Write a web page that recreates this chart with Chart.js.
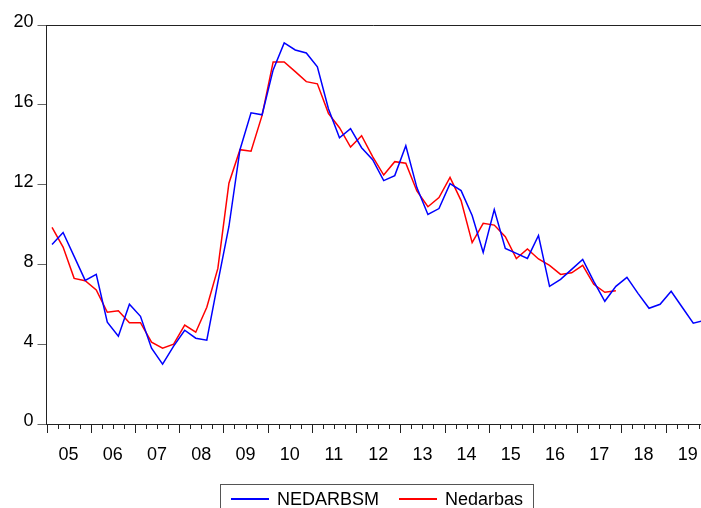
<!DOCTYPE html>
<html>
<head>
<meta charset="utf-8">
<script src="https://cdn.jsdelivr.net/npm/chart.js@4"></script>
<style>
  html, body { margin: 0; padding: 0; background: #fff; overflow: hidden; }
  #wrap { position: relative; width: 701px; height: 508px; }
  #chart { display: block; }
  #legend {
    position: absolute; left: 220px; top: 484px; width: 314px; height: 40px;
    border: 1px solid #555; box-sizing: border-box;
    font: 18px "Liberation Sans", Arial, sans-serif; color: #000;
  }
  #legend .item { position: absolute; top: 4px; white-space: nowrap; }
  #legend .swatch { display: inline-block; width: 38px; height: 2px; vertical-align: middle; margin-right: 8px; position: relative; top: -1px; }
</style>
</head>
<body>
<div id="wrap">
  <canvas id="chart" width="701" height="508"></canvas>
  <div id="legend"></div>
</div>
<script>
// quarterly, 2005Q1 onward
const years = ['05', '06', '07', '08', '09', '10', '11', '12', '13', '14', '15', '16', '17', '18', '19'];
const yTicks = [0, 4, 8, 12, 16, 20];

const nedarbsm = [
  9.0, 9.6, 8.4, 7.2, 7.5, 5.1, 4.4, 6.0, 5.4, 3.8, 3.0, 3.9,
  4.7, 4.3, 4.2, 7.1, 9.9, 13.75, 15.6, 15.5, 17.75, 19.1, 18.75, 18.6,
  17.9, 15.8, 14.35, 14.8, 13.85, 13.25, 12.2, 12.45, 13.95, 11.85, 10.5, 10.8,
  12.05, 11.7, 10.45, 8.6, 10.75, 8.8, 8.55, 8.3, 9.45, 6.9, 7.25, 7.75,
  8.25, 7.15, 6.15, 6.9, 7.35, 6.55, 5.8, 6.0, 6.65, 5.85, 5.05, 5.2,
];
const nedarbas = [
  9.85, 8.87, 7.3, 7.18, 6.72, 5.6, 5.68, 5.08, 5.08, 4.1, 3.8, 4.0,
  4.96, 4.6, 5.85, 7.8, 12.07, 13.75, 13.67, 15.47, 18.15, 18.15, 17.66, 17.16,
  17.05, 15.57, 14.85, 13.88, 14.45, 13.4, 12.48, 13.15, 13.07, 11.68, 10.89, 11.35,
  12.36, 11.2, 9.09, 10.06, 9.97, 9.39, 8.29, 8.77, 8.27, 7.95, 7.5, 7.58,
  7.95, 7.0, 6.6, 6.68,
];

const FONT = '"Liberation Sans", Arial, sans-serif';
const toPoints = (arr) => arr.map((v, i) => ({ x: i + 0.5, y: v }));

// quarter tick marks below the x axis + top frame line
const frame = {
  id: 'frame',
  afterDraw(chart) {
    const { ctx, chartArea } = chart;
    const xs = chart.scales.x;
    ctx.save();
    ctx.strokeStyle = '#222';
    ctx.lineWidth = 1;
    ctx.beginPath();
    for (let q = 0; q <= years.length * 4; q++) {
      const px = Math.round(xs.getPixelForValue(q)) + 0.5;
      if (px > chart.width) break;
      const len = q % 4 === 0 ? 9 : 5;
      ctx.moveTo(px, chartArea.bottom);
      ctx.lineTo(px, chartArea.bottom + len);
    }
    ctx.moveTo(chartArea.left, Math.round(chartArea.top) + 0.5);
    ctx.lineTo(chart.width, Math.round(chartArea.top) + 0.5);
    ctx.stroke();
    ctx.restore();
  },
};

const chart = new Chart(document.getElementById('chart'), {
  type: 'line',
  data: {
    datasets: [
      {
        label: 'NEDARBSM',
        data: toPoints(nedarbsm),
        borderColor: '#0000ff',
        borderWidth: 1.5,
        pointRadius: 0,
        tension: 0,
      },
      {
        label: 'Nedarbas',
        data: toPoints(nedarbas),
        borderColor: '#ff0000',
        borderWidth: 1.5,
        pointRadius: 0,
        tension: 0,
      },
    ],
  },
  options: {
    responsive: false,
    animation: false,
    layout: { padding: { top: 25, right: 0, bottom: 0, left: 0 } },
    plugins: { legend: { display: false }, tooltip: { enabled: false } },
    scales: {
      x: {
        type: 'linear',
        min: 0,
        max: 59.2,
        afterFit: (s) => { s.height = 84; s.paddingLeft = 0; s.paddingRight = 0; },
        afterBuildTicks: (s) => { s.ticks = years.map((_, i) => ({ value: i * 4 + 2 })); },
        ticks: {
          autoSkip: false,
          maxRotation: 0,
          padding: 12,
          color: '#000',
          font: { family: FONT, size: 18 },
          callback: (v) => years[Math.floor(v / 4)],
        },
        grid: { display: false },
        border: { display: true, color: '#222', width: 1 },
      },
      y: {
        min: 0,
        max: 20,
        afterFit: (s) => { s.width = 46.5; s.paddingTop = 0; s.paddingBottom = 0; },
        afterBuildTicks: (s) => { s.ticks = yTicks.map((v) => ({ value: v })); },
        ticks: {
          padding: 4,
          labelOffset: -2.5,
          color: '#000',
          font: { family: FONT, size: 18 },
        },
        grid: { drawOnChartArea: false, drawTicks: true, tickLength: 9, tickColor: '#666' },
        border: { display: true, color: '#222', width: 1 },
      },
    },
  },
  plugins: [frame],
});

// boxed legend under the axis
const legend = document.getElementById('legend');
const legendX = [10, 178];
chart.data.datasets.forEach((ds, i) => {
  const item = document.createElement('div');
  item.className = 'item';
  item.style.left = legendX[i] + 'px';
  const sw = document.createElement('span');
  sw.className = 'swatch';
  sw.style.background = ds.borderColor;
  item.appendChild(sw);
  item.appendChild(document.createTextNode(ds.label));
  legend.appendChild(item);
});
</script>
</body>
</html>
